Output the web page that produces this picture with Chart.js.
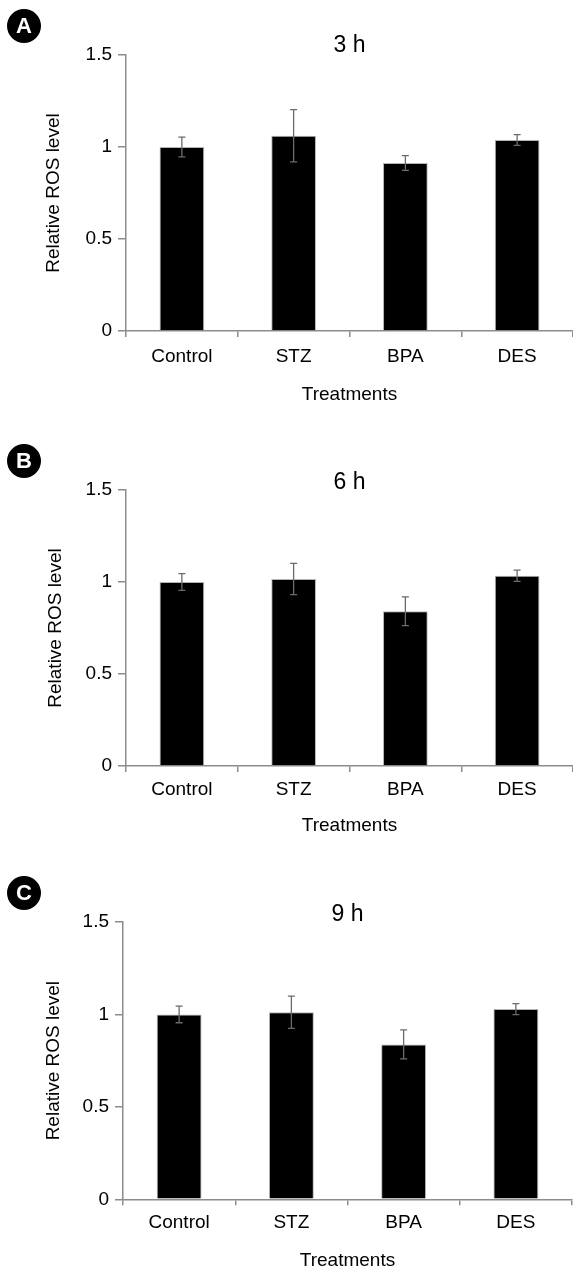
<!DOCTYPE html>
<html><head><meta charset="utf-8">
<script src="https://cdn.jsdelivr.net/npm/chart.js@4.4.1/dist/chart.umd.min.js"></script>
<style>
html,body{margin:0;padding:0;background:#fff;}
body{width:573px;height:1272px;position:relative;overflow:hidden;}
canvas.panel{position:absolute;left:0;}
.badge{position:absolute;left:7px;width:34px;height:34px;border-radius:50%;background:#000;color:#fff;
  font:bold 22px "Liberation Sans",Arial,sans-serif;text-align:center;line-height:34px;}
</style></head><body>
<canvas id="cA" class="panel" width="573" height="425" style="top:0px"></canvas>
<canvas id="cB" class="panel" width="573" height="415" style="top:430px"></canvas>
<canvas id="cC" class="panel" width="573" height="412" style="top:860px"></canvas>
<div class="badge" style="top:9px">A</div>
<div class="badge" style="top:444px">B</div>
<div class="badge" style="top:876px">C</div>
<script>
// ---- data ----
const categories = ['Control', 'STZ', 'BPA', 'DES'];
const panelTitles = ['3 h', '6 h', '9 h'];
const yAxisTitle = 'Relative ROS level';
const xAxisTitle = 'Treatments';
const mean3h = [1.00, 1.061, 0.913, 1.038];
const err3h  = [0.054, 0.142, 0.040, 0.029];
const mean6h = [1.00, 1.016, 0.841, 1.034];
const err6h  = [0.045, 0.085, 0.078, 0.031];
const mean9h = [1.00, 1.012, 0.838, 1.029];
const err9h  = [0.045, 0.087, 0.078, 0.030];
const yTickLabels = ['0', '0.5', '1', '1.5'];
const yMin = 0, yMax = 1.5, yStep = 0.5;

const FONT = '"Liberation Sans", Arial, sans-serif';
const AXIS_COLOR = '#8c8c8c';

const errorBars = {
  id: 'errorBars',
  afterDatasetsDraw(chart, args, opts) {
    const ctx = chart.ctx;
    const meta = chart.getDatasetMeta(0);
    const ys = chart.scales.y;
    const ds = chart.data.datasets[0];
    ctx.save();
    ctx.strokeStyle = opts.color;
    ctx.lineWidth = opts.width;
    meta.data.forEach((bar, i) => {
      const v = ds.data[i], e = ds.errors[i];
      const x = bar.x;
      const yT = ys.getPixelForValue(v + e), yB = ys.getPixelForValue(v - e);
      ctx.beginPath();
      ctx.moveTo(x, yT); ctx.lineTo(x, yB);
      ctx.moveTo(x - opts.cap, yT); ctx.lineTo(x + opts.cap, yT);
      ctx.moveTo(x - opts.cap, yB); ctx.lineTo(x + opts.cap, yB);
      ctx.stroke();
    });
    ctx.restore();
  }
};

function makePanel(id, title, values, errors, L) {
  const tSize = 23, tLH = 0.6, tlh = tSize * tLH;
  const padTop = L.titleY - L.top - tlh / 2;
  const titlePadBottom = L.areaTop - L.top - padTop - tlh;
  const fs = 19, lh = fs * 1.2;
  const bottomEdge = L.top + L.h;
  new Chart(document.getElementById(id), {
    type: 'bar',
    data: {
      labels: categories,
      datasets: [{
        data: values, errors: errors,
        backgroundColor: '#000', borderColor: '#b4b4b4', borderWidth: 1,
        barPercentage: 0.4, categoryPercentage: 1
      }]
    },
    options: {
      responsive: false, animation: false, devicePixelRatio: 1,
      layout: { padding: { top: padTop, bottom: 0, left: 0, right: 573 - L.right } },
      plugins: {
        legend: { display: false }, tooltip: { enabled: false },
        title: {
          display: true, text: title, fullSize: false, color: '#000',
          font: { family: FONT, size: tSize, lineHeight: tLH, weight: 'normal' },
          padding: { top: 0, bottom: titlePadBottom }
        },
        errorBars: { color: '#6b6b6b', width: 1.3, cap: 3.5 }
      },
      scales: {
        x: {
          grid: { offset: true, drawOnChartArea: false, drawTicks: true, tickLength: 6, color: AXIS_COLOR, lineWidth: 1.5 },
          border: { display: true, color: AXIS_COLOR, width: 1.5 },
          ticks: { font: { family: FONT, size: fs }, color: '#000', padding: L.xLabelY - L.areaBottom - 6 - lh / 2, maxRotation: 0, autoSkip: false },
          title: { display: true, text: xAxisTitle, color: '#000', font: { family: FONT, size: fs },
                   padding: { top: 0, bottom: bottomEdge - L.xTitleY - lh / 2 } },
          afterFit(s) { s.height = bottomEdge - L.areaBottom; }
        },
        y: {
          min: yMin, max: yMax,
          grid: { drawOnChartArea: false, drawTicks: true, tickLength: 8, color: AXIS_COLOR, lineWidth: 1.5 },
          border: { display: true, color: AXIS_COLOR, width: 1.5 },
          ticks: { stepSize: yStep, font: { family: FONT, size: fs }, color: '#000', padding: 6,
                   callback: (v, i) => yTickLabels[i] },
          title: { display: true, text: yAxisTitle, color: '#000', font: { family: FONT, size: fs },
                   padding: { top: L.yTitleX - lh / 2, bottom: 0 } },
          afterFit(s) { s.width = L.axisLeft; }
        }
      }
    },
    plugins: [errorBars]
  });
}

makePanel('cA', panelTitles[0], mean3h, err3h,
  { top: 0, h: 425, areaTop: 55, areaBottom: 331, axisLeft: 126, right: 573, titleY: 45.5, xLabelY: 357, xTitleY: 394.5, yTitleX: 54 });
makePanel('cB', panelTitles[1], mean6h, err6h,
  { top: 430, h: 415, areaTop: 490, areaBottom: 766, axisLeft: 126, right: 573, titleY: 483, xLabelY: 789.7, xTitleY: 826, yTitleX: 56 });
makePanel('cC', panelTitles[2], mean9h, err9h,
  { top: 860, h: 412, areaTop: 922, areaBottom: 1199.3, axisLeft: 123, right: 572, titleY: 914.5, xLabelY: 1223, xTitleY: 1261, yTitleX: 54 });
</script>
</body></html>
